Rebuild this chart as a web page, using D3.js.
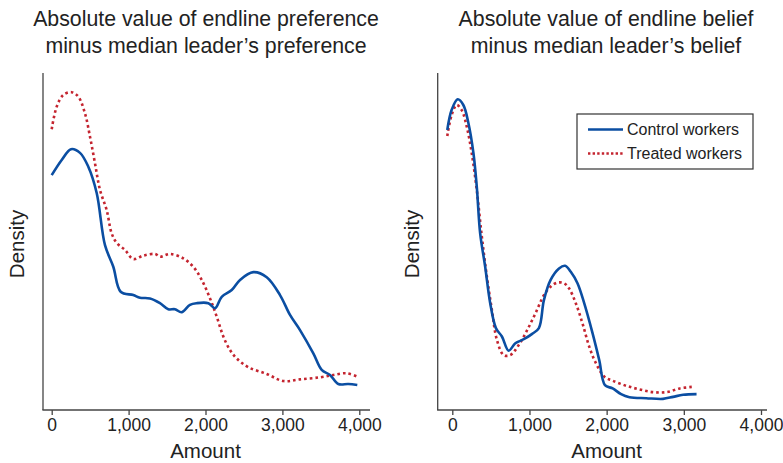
<!DOCTYPE html>
<html>
<head>
<meta charset="utf-8">
<script src="https://cdn.jsdelivr.net/npm/d3@7"></script>
<style>
  body { margin: 0; background: #fff; }
  svg { display: block; font-family: "Liberation Sans", Arial, sans-serif; }
</style>
</head>
<body>
<svg width="783" height="463"></svg>
<script>
// x tick values shared by both panels
const xTicks = [0, 1000, 2000, 3000, 4000];

// left panel: |endline preference - median leader's preference|
const prefControl = [
  [0, 69.7], [130, 74.2], [251, 77.4], [368, 76.3], [476, 72.2], [585, 64.4],
  [693, 48.9], [801, 42.5], [897, 35.1], [1061, 34.1], [1148, 33.3], [1278, 33.1],
  [1408, 31.7], [1516, 29.9], [1603, 29.9], [1690, 29.0], [1798, 31.2], [1886, 31.7],
  [2036, 31.7], [2124, 30.2], [2211, 33.6], [2341, 35.6], [2449, 38.6], [2622, 40.9],
  [2796, 39.4], [2969, 34.1], [3099, 28.2], [3229, 23.7], [3402, 16.8], [3511, 11.9],
  [3619, 10.4], [3727, 7.7], [3857, 7.7], [3974, 7.4]
];
const prefTreated = [
  [0, 83.3], [65, 90.0], [151, 93.5], [260, 94.3], [346, 93.0], [433, 88.0],
  [498, 81.1], [563, 73.2], [628, 65.3], [715, 59.3], [780, 52.4], [845, 49.6],
  [953, 47.5], [1061, 44.8], [1191, 45.8], [1343, 46.3], [1408, 45.5], [1538, 46.3],
  [1711, 45.0], [1841, 42.5], [1951, 38.6], [2059, 33.1], [2146, 27.7], [2232, 21.8],
  [2319, 17.8], [2406, 15.3], [2557, 12.7], [2796, 10.7], [3012, 8.6], [3229, 9.1],
  [3489, 9.7], [3662, 10.4], [3836, 10.9], [3974, 9.9]
];

// right panel: |endline belief - median leader's belief|
const beliefControl = [
  [-65, 83.1], [-9, 89.0], [70, 92.2], [143, 90.5], [209, 85.1], [274, 76.2],
  [317, 66.3], [361, 52.4], [426, 42.5], [491, 31.7], [565, 24.3], [643, 21.8],
  [730, 17.6], [817, 19.8], [926, 21.0], [1035, 22.6], [1122, 24.3], [1187, 32.6],
  [1274, 38.6], [1383, 42.0], [1461, 42.8], [1535, 41.0], [1622, 37.6], [1709, 31.7],
  [1817, 22.8], [1904, 14.8], [1978, 7.4], [2078, 6.4], [2187, 4.7], [2296, 3.8],
  [2513, 3.5], [2730, 3.3], [2861, 3.9], [2991, 4.5], [3165, 4.7]
];
const beliefTreated = [
  [-65, 81.3], [-9, 87.5], [57, 90.5], [122, 89.0], [187, 84.1], [252, 76.2],
  [317, 65.3], [383, 51.4], [448, 39.6], [513, 29.7], [578, 20.8], [665, 16.3],
  [752, 16.3], [861, 19.3], [970, 23.7], [1078, 28.7], [1187, 34.1], [1274, 36.6],
  [1361, 37.8], [1448, 37.6], [1513, 36.1], [1600, 31.7], [1687, 25.7], [1774, 18.8],
  [1861, 13.9], [1970, 9.9], [2078, 8.7], [2252, 7.2], [2426, 6.1], [2600, 5.3],
  [2774, 5.3], [2948, 6.4], [3122, 6.9]
];

const seriesNames = ['Control workers', 'Treated workers'];

const leftTitle = ['Absolute value of endline preference', 'minus median leader\u2019s preference'];
const rightTitle = ['Absolute value of endline belief', 'minus median leader\u2019s belief'];

const blue = '#0b4ea2';
const red = '#c4242f';
const axisColor = '#444';
const textColor = '#222';

const svg = d3.select('svg');

const y = d3.scaleLinear().domain([0, 100]).range([410, 73]);

const drawPanel = (p, title, control, treated, legend) => {
  const g = svg.append('g');
  const x = d3.scaleLinear().domain([0, 4000]).range([p.x0, p.x4]);

  // title
  g.append('text')
    .attr('text-anchor', 'middle')
    .attr('font-size', 21.3)
    .attr('fill', textColor)
    .selectAll('tspan')
    .data(title)
    .enter()
    .append('tspan')
    .attr('x', p.titleX)
    .attr('y', (d, i) => 26 + i * 26.5)
    .text((d) => d);

  // y axis line (no ticks)
  g.append('line')
    .attr('x1', p.axisX).attr('x2', p.axisX)
    .attr('y1', 73).attr('y2', 410)
    .attr('stroke', axisColor).attr('stroke-width', 1.3);

  // x axis
  const xAxis = g.append('g')
    .attr('transform', 'translate(0,410)')
    .call(
      d3.axisBottom(x)
        .tickValues(xTicks)
        .tickFormat(d3.format(','))
        .tickSizeOuter(0)
        .tickSize(5)
        .tickPadding(4)
    );
  xAxis.select('.domain').remove();
  xAxis.selectAll('.tick line').attr('stroke', axisColor).attr('stroke-width', 1.3);
  xAxis.selectAll('.tick text')
    .attr('font-size', 17.5)
    .attr('font-family', '"Liberation Sans", Arial, sans-serif')
    .attr('fill', textColor);
  g.append('line')
    .attr('x1', p.axisX - 0.6).attr('x2', p.axisEnd)
    .attr('y1', 410).attr('y2', 410)
    .attr('stroke', axisColor).attr('stroke-width', 1.3);

  // axis titles
  g.append('text')
    .attr('x', (p.x0 + p.x4) / 2).attr('y', 458)
    .attr('text-anchor', 'middle')
    .attr('font-size', 20.5)
    .attr('fill', textColor)
    .text('Amount');
  g.append('text')
    .attr('transform', `translate(${p.axisX - 19},244) rotate(-90)`)
    .attr('text-anchor', 'middle')
    .attr('font-size', 20.5)
    .attr('fill', textColor)
    .text('Density');

  const line = d3.line()
    .x((d) => x(d[0]))
    .y((d) => y(d[1]))
    .curve(d3.curveCatmullRom.alpha(0.5));

  g.append('path')
    .attr('d', line(treated))
    .attr('fill', 'none')
    .attr('stroke', red)
    .attr('stroke-width', 2.6)
    .attr('stroke-dasharray', '2.6,3');

  g.append('path')
    .attr('d', line(control))
    .attr('fill', 'none')
    .attr('stroke', blue)
    .attr('stroke-width', 2.6);

  if (legend) {
    const lg = g.append('g').attr('transform', 'translate(577,114)');
    lg.append('rect')
      .attr('width', 176).attr('height', 55)
      .attr('fill', '#fff')
      .attr('stroke', '#333').attr('stroke-width', 1.2);
    const item = lg.selectAll('g.item')
      .data(seriesNames)
      .enter()
      .append('g')
      .attr('class', 'item')
      .attr('transform', (d, i) => `translate(0,${15.5 + i * 24})`);
    item.append('line')
      .attr('x1', 11).attr('x2', 46)
      .attr('stroke', (d, i) => (i === 0 ? blue : red))
      .attr('stroke-width', 2.4)
      .attr('stroke-dasharray', (d, i) => (i === 0 ? null : '2.4,2.2'));
    item.append('text')
      .attr('x', 50).attr('y', 5.8)
      .attr('font-size', 16)
      .attr('fill', textColor)
      .text((d) => d);
  }
};

drawPanel({axisX: 43, x0: 51.7, x4: 359.3, axisEnd: 370, titleX: 206},
  leftTitle, prefControl, prefTreated, false);
drawPanel({axisX: 437.7, x0: 452.3, x4: 761, axisEnd: 767, titleX: 606},
  rightTitle, beliefControl, beliefTreated, true);
</script>
</body>
</html>
